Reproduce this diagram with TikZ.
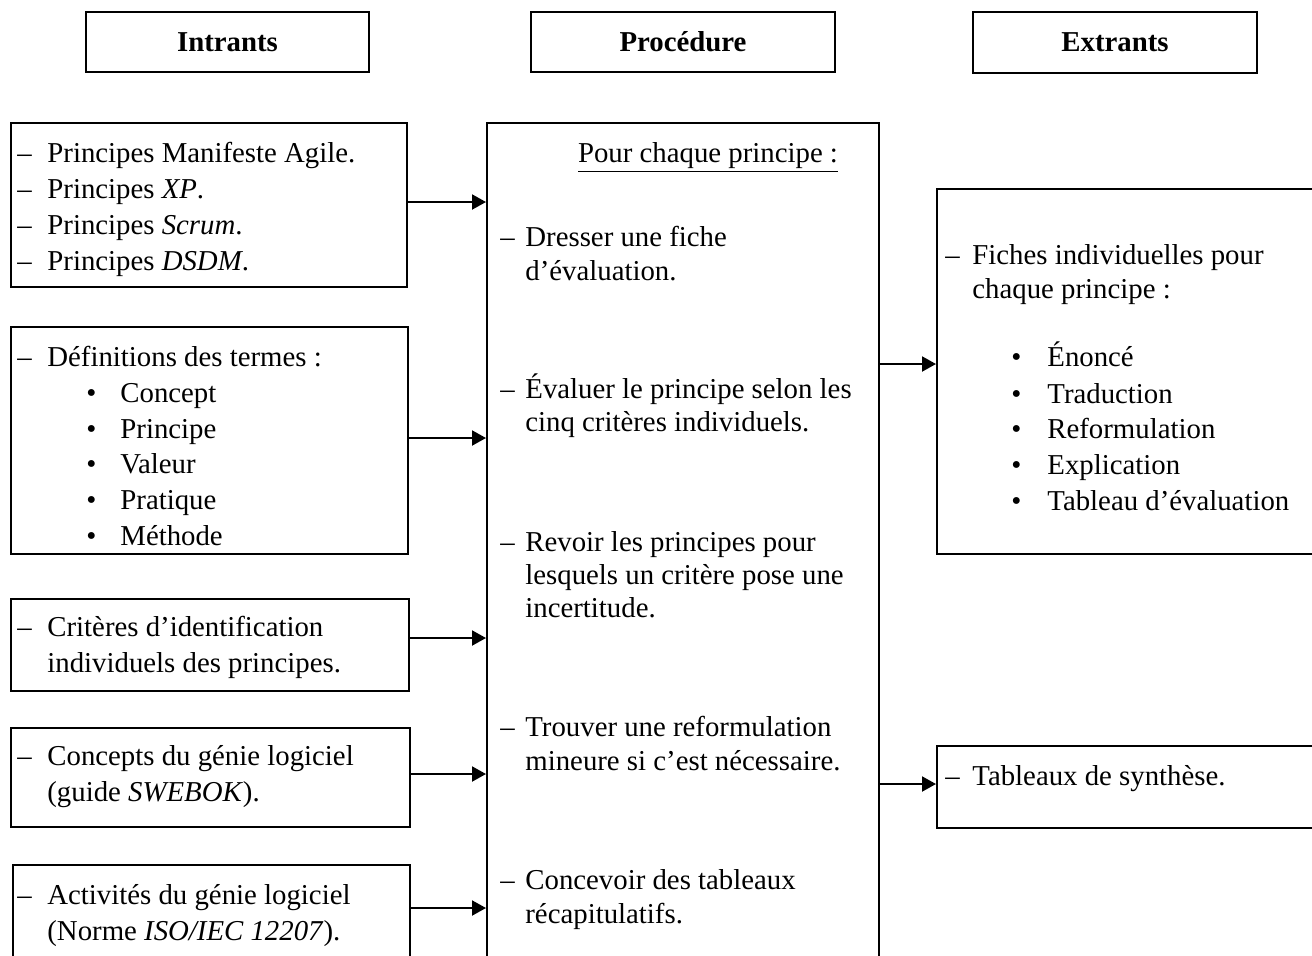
\documentclass[tikz,border=0pt]{standalone}
\usepackage{fontspec}
\setmainfont{Liberation Serif}
\usetikzlibrary{arrows.meta}
\newcommand\bx[6]{\node[box,minimum width={(#4-#2)*0.5pt},minimum height={(#5-#3)*0.5pt}] (#1) at (#2,#3) {#6};}
\newcommand\tline[4]{\node[txt] (#1) at (#2,#3+10) {#4};}
\begin{document}
\begin{tikzpicture}[x=0.5pt,y=-0.5pt,
  box/.style={draw,line width=1pt,inner sep=0,anchor=north west,font=\fontsize{14.4}{18}\selectfont\bfseries},
  txt/.style={anchor=base west,inner sep=0,font=\fontsize{14.4}{18}\selectfont},
  arr/.style={line width=1pt,-{Triangle[length=7pt,width=7.5pt]}}]
\clip (0,0) rectangle (1312,955);
\fill[white] (0,0) rectangle (1312,955);
% headers
\bx{H1}{85}{11}{368}{71}{Intrants}
\bx{H2}{530}{11}{834}{71}{Procédure}
\bx{H3}{972}{11}{1256}{72}{Extrants}
% boxes
\bx{L1}{10}{122}{406}{286}{}
\bx{L2}{10}{326}{407}{553}{}
\bx{L3}{10}{598}{408}{690}{}
\bx{L4}{10}{727}{409}{826}{}
\bx{L5}{12}{864}{409}{1010}{}
\bx{M}{486}{122}{878}{1010}{}
\bx{R1}{936}{188}{1340}{553}{}
\bx{R2}{936}{745}{1340}{827}{}
% arrows
\coordinate (a1) at (0,202);
\coordinate (a2) at (0,438);
\coordinate (a3) at (0,638);
\coordinate (a4) at (0,774);
\coordinate (a5) at (0,908);
\coordinate (b1) at (0,364);
\coordinate (b2) at (0,784);
\draw[arr] (L1.east |- a1) -- (M.west |- a1);
\draw[arr] (L2.east |- a2) -- (M.west |- a2);
\draw[arr] (L3.east |- a3) -- (M.west |- a3);
\draw[arr] (L4.east |- a4) -- (M.west |- a4);
\draw[arr] (L5.east |- a5) -- (M.west |- a5);
\draw[arr] (M.east |- b1) -- (R1.west |- b1);
\draw[arr] (M.east |- b2) -- (R2.west |- b2);
% left box 1
\tline{d11}{17}{152}{–}\tline{t11}{47}{152}{Principes Manifeste Agile.}
\tline{d12}{17}{188}{–}\tline{t12}{47}{188}{Principes \textit{XP}.}
\tline{d13}{17}{224}{–}\tline{t13}{47}{224}{Principes \textit{Scrum}.}
\tline{d14}{17}{260}{–}\tline{t14}{47}{260}{Principes \textit{DSDM}.}
% left box 2
\tline{d21}{17}{356}{–}\tline{t21}{47}{356}{Définitions des termes :}
\tline{u22}{86}{392}{•}\tline{t22}{120}{392}{Concept}
\tline{u23}{86}{428}{•}\tline{t23}{120}{428}{Principe}
\tline{u24}{86}{463}{•}\tline{t24}{120}{463}{Valeur}
\tline{u25}{86}{499}{•}\tline{t25}{120}{499}{Pratique}
\tline{u26}{86}{535}{•}\tline{t26}{120}{535}{Méthode}
% left box 3
\tline{d31}{17}{626}{–}\tline{t31}{47}{626}{Critères d’identification}
\tline{t32}{47}{662}{individuels des principes.}
% left box 4
\tline{d41}{17}{755}{–}\tline{t41}{47}{755}{Concepts du génie logiciel}
\tline{t42}{47}{791}{(guide \textit{SWEBOK}).}
% left box 5
\tline{d51}{17}{894}{–}\tline{t51}{47}{894}{Activités du génie logiciel}
\tline{t52}{47}{930}{(Norme \textit{ISO/IEC 12207}).}
% middle
\node[txt,anchor=base] (m0) at (708,162) {\underline{Pour chaque principe :}};
\tline{dm1}{500}{236}{–}\tline{m11}{525}{236}{Dresser une fiche}
\tline{m12}{525}{270}{d’évaluation.}
\tline{dm2}{500}{388}{–}\tline{m21}{525}{388}{Évaluer le principe selon les}
\tline{m22}{525}{421}{cinq critères individuels.}
\tline{dm3}{500}{541}{–}\tline{m31}{525}{541}{Revoir les principes pour}
\tline{m32}{525}{574}{lesquels un critère pose une}
\tline{m33}{525}{607}{incertitude.}
\tline{dm4}{500}{726}{–}\tline{m41}{525}{726}{Trouver une reformulation}
\tline{m42}{525}{760}{mineure si c’est nécessaire.}
\tline{dm5}{500}{879}{–}\tline{m51}{525}{879}{Concevoir des tableaux}
\tline{m52}{525}{913}{récapitulatifs.}
% right box 1
\tline{dr1}{945}{254}{–}\tline{r11}{972}{254}{Fiches individuelles pour}
\tline{r12}{972}{288}{chaque principe :}
\tline{ur3}{1011}{356}{•}\tline{r13}{1047}{356}{Énoncé}
\tline{ur4}{1011}{393}{•}\tline{r14}{1047}{393}{Traduction}
\tline{ur5}{1011}{428}{•}\tline{r15}{1047}{428}{Reformulation}
\tline{ur6}{1011}{464}{•}\tline{r16}{1047}{464}{Explication}
\tline{ur7}{1011}{500}{•}\tline{r17}{1047}{500}{Tableau d’évaluation}
% right box 2
\tline{dr2}{945}{775}{–}\tline{r21}{972}{775}{Tableaux de synthèse.}
\end{tikzpicture}
\end{document}
